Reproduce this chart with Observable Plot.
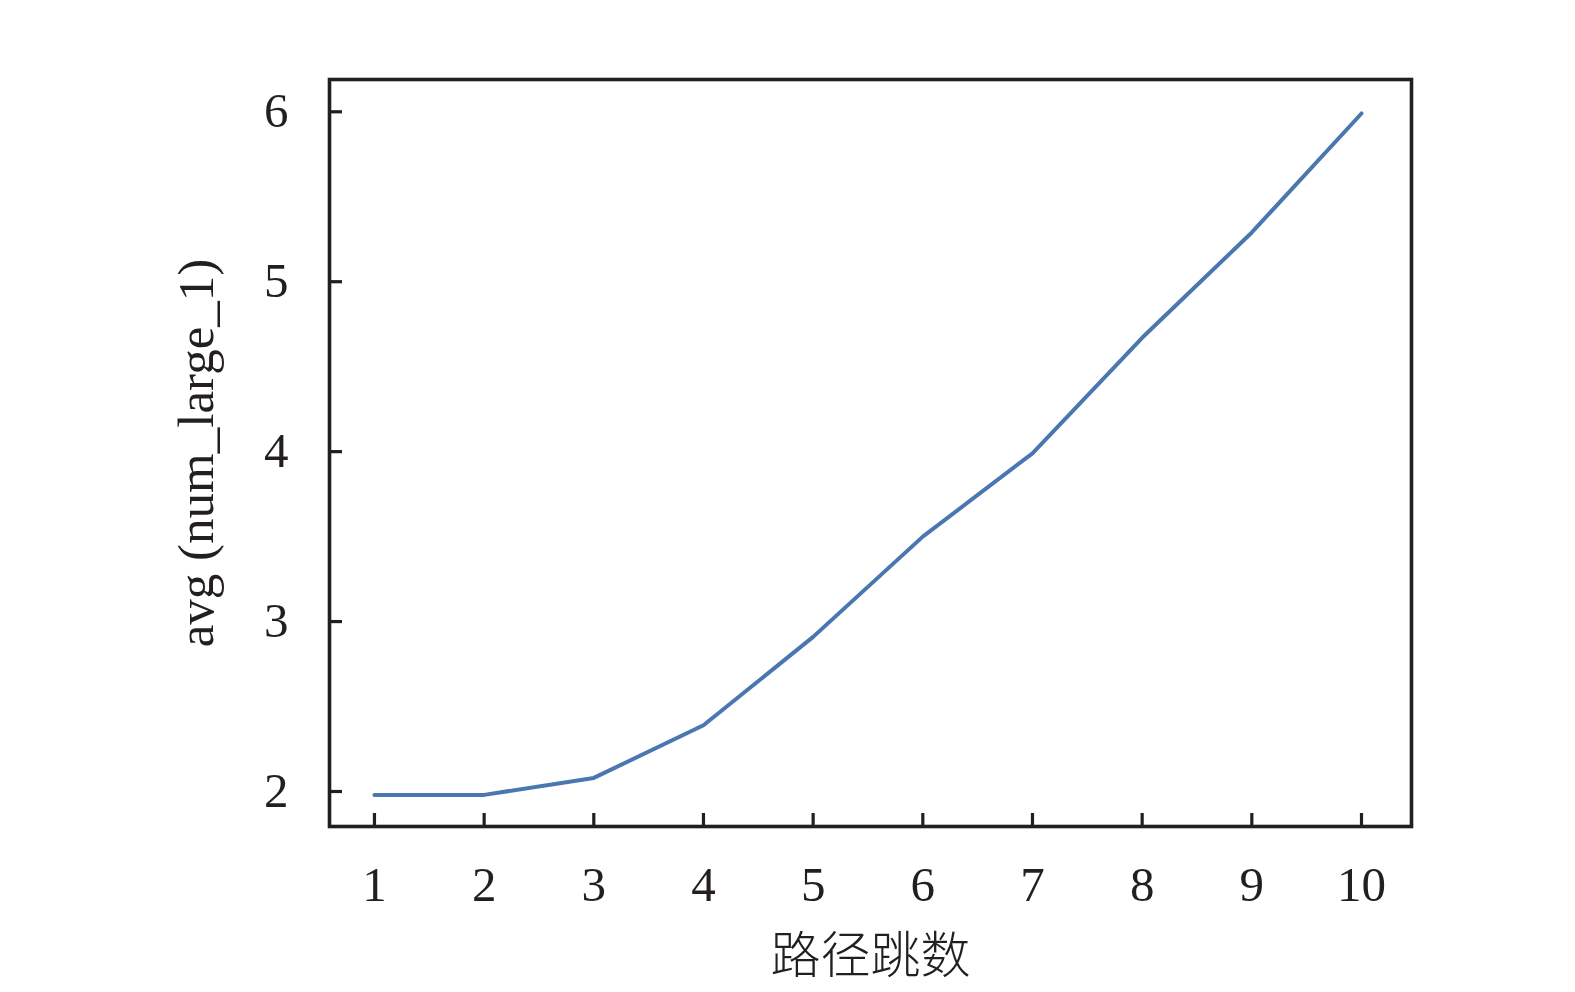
<!DOCTYPE html>
<html>
<head>
<meta charset="utf-8">
<script src="https://cdn.jsdelivr.net/npm/d3@7"></script>
<script src="https://cdn.jsdelivr.net/npm/@observablehq/plot@0.6"></script>
<style>
  html, body { margin: 0; padding: 0; background: #fff; }
  #chart { width: 1575px; height: 992px; }
</style>
</head>
<body>
<div id="chart"></div>
<script>
const hops = [1, 2, 3, 4, 5, 6, 7, 8, 9, 10];
const avgValues = [1.98, 1.98, 2.08, 2.39, 2.91, 3.5, 3.99, 4.67, 5.29, 5.99];
const xTicks = [1, 2, 3, 4, 5, 6, 7, 8, 9, 10];
const yTicks = [2, 3, 4, 5, 6];
const xTitle = "路径跳数";
const yTitle = "avg (num_large_1)";

const data = hops.map((h, i) => ({hop: h, avg: avgValues[i]}));

const serif = "'Liberation Serif', 'Times New Roman', serif";
const ink = "#231f20";

const chart = Plot.plot({
  width: 1575,
  height: 992,
  marginLeft: 329,
  marginRight: 164,
  marginTop: 79,
  marginBottom: 166,
  style: {fontFamily: serif, background: "#fff", color: ink},
  x: {domain: [0.59, 10.456], label: null},
  y: {domain: [1.794, 6.19], label: null},
  marks: [
    Plot.axisX({ticks: xTicks, tickSize: -13, text: null, strokeWidth: 3.2, stroke: ink, label: null}),
    Plot.axisX({ticks: xTicks, tickSize: 0, tickPadding: 40, fontSize: 49, fill: ink, label: null, tickFormat: d => String(d)}),
    Plot.axisY({ticks: yTicks, tickSize: -13, text: null, strokeWidth: 3.2, stroke: ink, label: null}),
    Plot.axisY({ticks: yTicks, tickSize: 0, tickPadding: 41, fontSize: 49, fill: ink, label: null, tickFormat: d => String(d)}),
    Plot.line(data, {x: "hop", y: "avg", stroke: "#4a77b0", strokeWidth: 4}),
    Plot.frame({stroke: ink, strokeWidth: 3.6}),
    Plot.text([yTitle], {frameAnchor: "left", textAnchor: "middle", rotate: -90, dx: -133, fontSize: 51, lineAnchor: "middle", fontFamily: serif, fill: ink}),
    Plot.text([xTitle], {frameAnchor: "bottom", textAnchor: "middle", dy: 130, fontSize: 50, lineAnchor: "middle", fontFamily: "'Noto Sans CJK SC', sans-serif", fontWeight: 300, fill: ink})
  ]
});
document.getElementById("chart").appendChild(chart);
</script>
</body>
</html>
